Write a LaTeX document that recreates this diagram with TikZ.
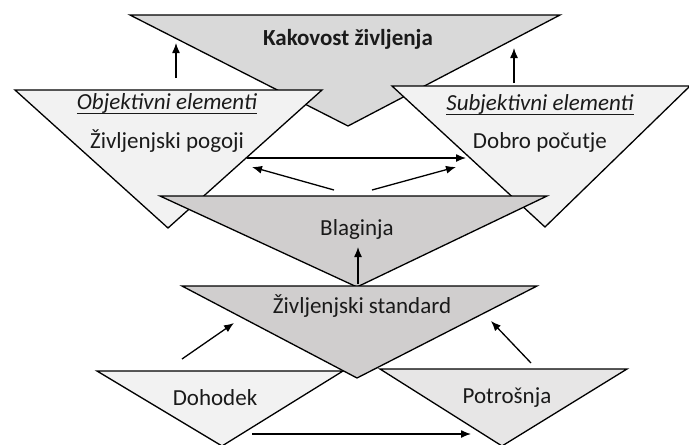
\documentclass[tikz,border=0pt]{standalone}
\usepackage{fontspec}
\setmainfont{Carlito}
\usetikzlibrary{arrows.meta}
\definecolor{topgray}{HTML}{D9D9D9}
\definecolor{midgray}{HTML}{D0CECE}
\definecolor{palegray}{HTML}{F2F2F2}
\definecolor{lightgray2}{HTML}{E7E6E6}
\definecolor{ink}{HTML}{1A1A1A}
\tikzset{
  tri/.style={draw=black, line width=1.3pt, line join=miter},
  lbl/.style={anchor=base, inner sep=0pt, text=ink, font=\fontsize{23}{26}\selectfont},
  uline/.style={line width=1pt, draw=ink},
  flow/.style={line width=1.3pt, -{Latex[length=10pt,width=8pt]}},
}
\begin{document}
\begin{tikzpicture}[x=1pt,y=-1pt]
\useasboundingbox (0,0) rectangle (689,445);
% quality of life (top)
\filldraw[tri, fill=topgray] (130,15) -- (560,15) -- (348,126) -- cycle;
% objective / subjective elements
\filldraw[tri, fill=palegray] (15,90) -- (322,90) -- (168,228) -- cycle;
\filldraw[tri, fill=palegray] (392,86) -- (690,86) -- (545,227) -- cycle;
% welfare
\filldraw[tri, fill=midgray] (160,196) -- (547,196) -- (357,287) -- cycle;
% income and consumption
\filldraw[tri, fill=palegray] (97,371) -- (343,371) -- (222,446) -- cycle;
\filldraw[tri, fill=lightgray2] (380,369) -- (627,369) -- (502,446) -- cycle;
% standard of living
\filldraw[tri, fill=midgray] (182,286) -- (537,286) -- (357,378) -- cycle;

% labels
\node[lbl, font=\fontsize{23}{26}\selectfont\bfseries] (kak) at (348,45) {Kakovost življenja};
\node[lbl] (obj) at (167,109) {\textit{Objektivni elementi}};
\node[lbl] (pog) at (167,148) {Življenjski pogoji};
\node[lbl] (sub) at (540,110) {\textit{Subjektivni elementi}};
\node[lbl] (dob) at (540,148) {Dobro počutje};
\node[lbl] (bla) at (357,235) {Blaginja};
\node[lbl] (std) at (362,313) {Življenjski standard};
\node[lbl] (doh) at (215,405) {Dohodek};
\node[lbl] (pot) at (507,403) {Potrošnja};

% underlines of the two headings
\draw[uline] ([yshift=-4pt]obj.base west) -- ([yshift=-4pt]obj.base east);
\draw[uline] ([yshift=-4pt]sub.base west) -- ([yshift=-4pt]sub.base east);

% arrow end points
\coordinate (a1s) at (176,78);  \coordinate (a1e) at (176,43);
\coordinate (a2s) at (514,83);  \coordinate (a2e) at (514,48);
\coordinate (h1s) at (247,158); \coordinate (h1e) at (466,158);
\coordinate (d1s) at (334,190); \coordinate (d1e) at (252,167);
\coordinate (d2s) at (372,190); \coordinate (d2e) at (456,167);
\coordinate (b1s) at (358,284); \coordinate (b1e) at (358,247);
\coordinate (l1s) at (182,359); \coordinate (l1e) at (234,323);
\coordinate (r1s) at (531,363); \coordinate (r1e) at (491,321);
\coordinate (bts) at (252,434); \coordinate (bte) at (471,434);

\draw[flow] (a1s) -- (a1e);
\draw[flow] (a2s) -- (a2e);
\draw[flow] (h1s) -- (h1e);
\draw[flow] (d1s) -- (d1e);
\draw[flow] (d2s) -- (d2e);
\draw[flow] (b1s) -- (b1e);
\draw[flow] (l1s) -- (l1e);
\draw[flow] (r1s) -- (r1e);
\draw[flow] (bts) -- (bte);
\end{tikzpicture}
\end{document}
